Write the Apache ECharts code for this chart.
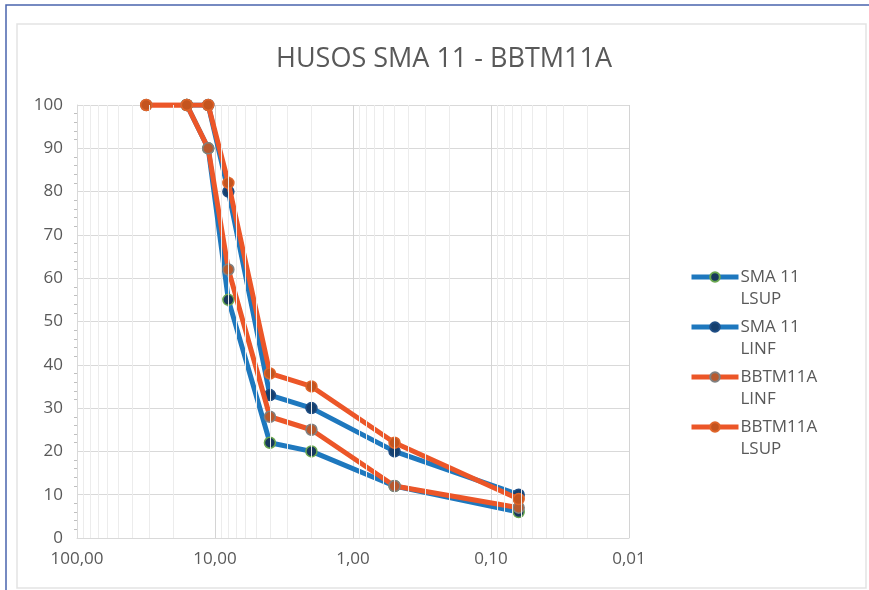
<!DOCTYPE html>
<html>
<head>
<meta charset="utf-8">
<script src="https://cdn.jsdelivr.net/npm/echarts@6/dist/echarts.min.js"></script>
<style>html,body{margin:0;padding:0;background:#fff}#c{width:869px;height:590px}</style>
</head>
<body>
<div id="c"></div>
<script>
var sieveSizes = [31.5, 16, 11.2, 8, 4, 2, 0.5, 0.063];
var smaLsup = [null, 100, 90, 55, 22, 20, 12, 6];
var smaLinf = [null, 100, 100, 80, 33, 30, 20, 10];
var bbtmLinf = [100, 100, 90, 62, 28, 25, 12, 7];
var bbtmLsup = [100, 100, 100, 82, 38, 35, 22, 9];
var seriesNames = ['SMA 11\nLSUP', 'SMA 11\nLINF', 'BBTM11A\nLINF', 'BBTM11A\nLSUP'];
var minorMultipliers = [2, 3, 4, 5, 6, 7, 8, 9];
var decades = [0.01, 0.1, 1, 10];

function pairs(vals) {
  var out = [];
  for (var i = 0; i < sieveSizes.length; i++) {
    if (vals[i] !== null) out.push([sieveSizes[i], vals[i]]);
  }
  return out;
}
var minorLines = [];
decades.forEach(function (d) {
  minorMultipliers.forEach(function (m) { minorLines.push({ xAxis: +(d * m).toPrecision(3) }); });
});

var FONT = '"Open Sans", "Liberation Sans", sans-serif';
var BLUE = '#1e78be';
var ORANGE = '#ec5628';

function mk(name, vals, color, fill, border, z) {
  return {
    name: name, type: 'line', data: pairs(vals), z: z,
    symbol: 'circle', symbolSize: 11,
    lineStyle: { color: color, width: 5 },
    itemStyle: { color: fill, borderColor: border, borderWidth: 1.5 },
    emphasis: { disabled: true }, animation: false
  };
}

var chart = echarts.init(document.getElementById('c'), null, { renderer: 'canvas' });
chart.setOption({
  backgroundColor: '#fff',
  animation: false,
  graphic: [
    { type: 'rect', shape: { x: 6, y: 5, width: 880, height: 600 }, style: { fill: 'none', stroke: '#4a64ad', lineWidth: 1.5 }, silent: true, z: -10 },
    { type: 'rect', shape: { x: 17, y: 24, width: 849, height: 564 }, style: { fill: 'none', stroke: '#e3e3e3', lineWidth: 1.5 }, silent: true, z: -10 }
  ],
  title: {
    text: 'HUSOS SMA 11 - BBTM11A', left: 439, top: 41, textAlign: 'center',
    textStyle: { fontFamily: FONT, fontSize: 27, fontWeight: 'normal', color: '#595959' }
  },
  legend: {
    orient: 'vertical', left: 684, top: 239, itemWidth: 47, itemHeight: 12, itemGap: -16,
    data: seriesNames,
    formatter: function (n) { return '\n' + n; },
    lineStyle: { width: 5 },
    textStyle: { fontFamily: FONT, fontSize: 17, color: '#595959', lineHeight: 22, padding: [0, 0, 0, -3] }
  },
  grid: { left: 77, right: 240, top: 105, bottom: 52 },
  xAxis: {
    type: 'log', logBase: 10, min: 0.01, max: 100, inverse: true,
    axisLine: { show: true, lineStyle: { color: '#d9d9d9' } },
    axisTick: { show: false },
    splitLine: { show: true, lineStyle: { color: '#d4d4d4', width: 1 } },
    axisLabel: {
      margin: 13, fontFamily: FONT, fontSize: 17, color: '#595959',
      formatter: function (v) { return (+v).toFixed(2).replace('.', ','); }
    }
  },
  yAxis: {
    type: 'value', min: 0, max: 100, interval: 10,
    axisLine: { show: true, lineStyle: { color: '#d9d9d9' } },
    axisTick: { show: false },
    minorTick: { show: true, splitNumber: 5, length: 3, lineStyle: { color: '#bfbfbf' } },
    splitLine: { show: true, lineStyle: { color: '#d9d9d9' } },
    axisLabel: { margin: 14, fontFamily: FONT, fontSize: 17, color: '#595959' }
  },
  series: [
    {
      type: 'line', data: [], silent: true, z: 1,
      markLine: {
        silent: true, symbol: 'none', label: { show: false }, animation: false,
        lineStyle: { color: '#ececec', type: 'solid', width: 1 },
        data: minorLines
      }
    },
    mk(seriesNames[0], smaLsup, BLUE, '#17385c', '#6aa84f', 3),
    mk(seriesNames[1], smaLinf, BLUE, '#153f6e', '#1f4e85', 3),
    mk(seriesNames[2], bbtmLinf, ORANGE, '#b85a2e', '#808080', 4),
    mk(seriesNames[3], bbtmLsup, ORANGE, '#c4541f', '#e0652a', 4)
  ]
});
</script>
</body>
</html>
